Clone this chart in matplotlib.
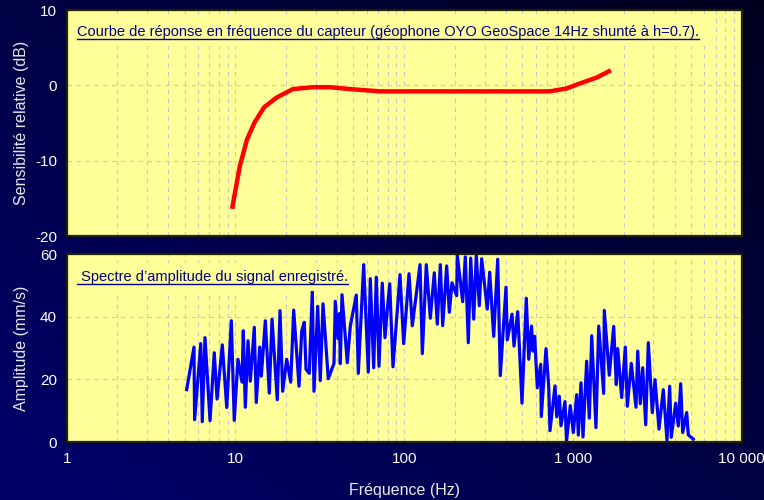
import matplotlib
matplotlib.use("Agg")
import matplotlib.pyplot as plt
from matplotlib.lines import Line2D
import numpy as np

plt.rcParams['font.family'] = ['Liberation Sans', 'DejaVu Sans']
plt.rcParams['axes.unicode_minus'] = False

# courbe de réponse du capteur (Hz, dB)
resp_freq = [9.55, 10.6, 11.7, 13.0, 14.8, 17.6, 21.9, 28.8, 36.3, 47.8, 71.9,
             731, 922, 1101, 1388, 1679]
resp_db = [-16.4, -10.8, -7.2, -4.9, -2.9, -1.6, -0.5, -0.25, -0.25, -0.5, -0.8,
           -0.8, -0.4, 0.25, 1.05, 2.0]

# spectre d'amplitude (Hz, mm/s)
spec_freq = [5.14, 5.68, 5.73, 6.23, 6.36, 6.60, 7.07, 7.49, 7.78, 8.36,
             8.88, 9.45, 9.84, 10.35, 10.94, 11.13, 11.44, 11.87, 12.25, 12.93,
             13.29, 13.92, 14.23, 15.03, 15.87, 16.47, 17.70, 18.37, 19.05, 20.13,
             21.26, 22.14, 23.81, 24.70, 25.59, 26.19, 27.39, 28.54, 29.21, 30.72,
             31.83, 33.03, 35.49, 38.37, 39.05, 40.52, 41.36, 41.81, 42.80, 46.01,
             47.93, 52.02, 53.46, 57.54, 61.27, 62.96, 65.95, 68.34, 70.90, 74.16,
             76.95, 79.09, 82.06, 85.83, 94.43, 99.31, 106.8, 111.7, 124.1, 128.1,
             135.2, 142.8, 150.8, 157.1, 163.7, 169.1, 178.6, 185.1, 192.0, 204.7,
             206.4, 222.2, 230.2, 239.8, 247.8, 258.2, 267.5, 278.6, 287.9, 310.7,
             321.1, 339.2, 358.2, 371.1, 401.2, 408.3, 435.5, 447.4, 470.6, 499.0,
             529.2, 546.8, 568.1, 579.9, 593.4, 614.9, 644.2, 649.4, 692.3, 718.3,
             731.1, 782.8, 802.3, 830.1, 849.6, 897.3, 915.9, 964.5, 1005, 1052,
             1076, 1116, 1147, 1206, 1250, 1292, 1369, 1421, 1521, 1534,
             1642, 1744, 1807, 1842, 1945, 2043, 2100, 2217, 2364, 2420,
             2507, 2591, 2699, 2796, 2953, 3064, 3236, 3431, 3608, 3744,
             3826, 4063, 4210, 4350, 4471, 4722, 4826, 5168]
spec_amp = [16.7, 30.3, 7.1, 31.4, 6.5, 33.3, 6.8, 28.5, 13.7, 31.0,
            11.0, 38.7, 6.9, 26.4, 19.1, 35.5, 11.1, 32.3, 19.4, 36.6,
            12.6, 30.3, 21.0, 38.7, 15.6, 39.2, 13.5, 41.9, 16.2, 26.4,
            19.1, 42.1, 17.8, 35.4, 38.2, 23.2, 21.9, 48.3, 16.2, 43.3,
            19.6, 44.1, 20.2, 25.1, 44.9, 33.0, 41.0, 25.0, 47.0, 25.3,
            37.0, 46.9, 21.9, 56.6, 22.3, 52.1, 23.7, 52.6, 24.2, 50.7,
            33.3, 41.2, 50.5, 24.0, 53.4, 31.4, 53.7, 37.1, 56.6, 28.2,
            56.6, 39.5, 54.0, 37.6, 56.6, 37.1, 56.2, 41.4, 50.8, 46.7,
            59.6, 44.8, 59.1, 31.7, 58.7, 39.2, 59.6, 43.5, 58.5, 42.4,
            54.2, 33.7, 58.3, 21.2, 49.4, 32.6, 40.8, 30.6, 41.6, 12.4,
            45.9, 26.4, 37.0, 29.0, 33.7, 17.3, 24.8, 8.1, 29.8, 17.8,
            3.6, 17.9, 8.0, 14.6, 5.2, 12.9, 0.2, 11.6, 3.0, 15.1,
            2.2, 18.9, 1.6, 25.8, 7.6, 33.9, 4.6, 37.0, 15.5, 42.0,
            21.3, 36.9, 18.3, 29.8, 14.2, 30.3, 11.4, 25.1, 11.1, 29.0,
            12.2, 23.7, 5.5, 31.7, 9.4, 19.9, 4.1, 16.7, 0.6, 17.8,
            1.5, 12.4, 5.1, 18.6, 3.0, 9.4, 2.3, 0.9]

xticks = [1, 10, 100, 1000, 10000]
xtick_labels = ["1", "10", "100", "1 000", "10 000"]

title_top = "Courbe de réponse en fréquence du capteur (géophone OYO GeoSpace 14Hz shunté à h=0.7)."
title_bot = " Spectre d’amplitude du signal enregistré."

fig = plt.figure(figsize=(7.64, 5.0), dpi=100)

# fond dégradé bleu nuit
bg = fig.add_axes([0, 0, 1, 1], zorder=-10)
gx, gy = np.meshgrid(np.linspace(0, 1, 200), np.linspace(0, 1, 200))
t = (gx + (1 - gy)) / 2
grad = np.zeros((200, 200, 3))
grad[..., 2] = (108 - 78 * t) / 255
bg.imshow(grad, aspect='auto', extent=[0, 1, 0, 1], origin='upper')
bg.axis('off')

ax1 = fig.add_axes([0.0873, 0.528, 0.8835, 0.452])
ax2 = fig.add_axes([0.0873, 0.116, 0.8835, 0.376])

minor = [m * 10 ** d for d in range(4) for m in range(2, 10)]
for ax in (ax1, ax2):
    ax.set_facecolor('#ffff99')
    ax.set_xscale('log')
    ax.set_xlim(1, 10000)
    ax.set_xticks(xticks)
    ax.set_xticks(minor, minor=True)
    ax.grid(True, which='both', color='#c8c8c8', linestyle=(0, (4, 4)), linewidth=0.8)
    ax.set_axisbelow(True)
    ax.tick_params(which='both', length=0, colors='white', labelsize=11, pad=7)
    for s in ax.spines.values():
        s.set_color('#222200')
        s.set_linewidth(1.6)

ax1.plot(resp_freq, resp_db, color='#ff0000', lw=3.2, solid_capstyle='butt')
ax1.set_ylim(-20, 10)
ax1.set_yticks([-20, -10, 0, 10])
ax1.set_xticklabels([])
ax1.set_ylabel("Sensibilité relative (dB)", color='#e8e8e8', fontsize=11.5)
ax1.yaxis.set_label_coords(-0.056, 0.5)

ax2.plot(spec_freq, spec_amp, color='#0000ff', lw=2.3)
ax2.set_ylim(0, 60)
ax2.set_yticks([0, 20, 40, 60])
ax2.set_xticklabels(xtick_labels)
ax2.set_ylabel("Amplitude (mm/s)", color='#e8e8e8', fontsize=11.5)
ax2.yaxis.set_label_coords(-0.056, 0.5)
fig.text(0.529, 0.02, "Fréquence (Hz)", color='#e8e8e8', fontsize=11.5, ha='center', va='center')

t1 = ax1.text(0.0155, 0.885, title_top, transform=ax1.transAxes, color='#000080',
              fontsize=10.55, va='baseline',
              bbox=dict(facecolor='#ffff99', edgecolor='none', pad=5))
t2 = ax2.text(0.0155, 0.855, title_bot, transform=ax2.transAxes, color='#000080',
              fontsize=10.55, va='baseline',
              bbox=dict(facecolor='#ffff99', edgecolor='none', pad=5))

# soulignement des titres
fig.canvas.draw()
r = fig.canvas.get_renderer()
for txt, ax in ((t1, ax1), (t2, ax2)):
    bb = txt.get_window_extent(r)
    x0, _ = ax.transAxes.inverted().transform((bb.x0, bb.y0))
    x1, _ = ax.transAxes.inverted().transform((bb.x1, bb.y0))
    _, yb = ax.transAxes.transform((0, txt.get_position()[1]))
    yl = ax.transAxes.inverted().transform((0, yb - 3))[1]
    ax.add_line(Line2D([x0, x1], [yl, yl], transform=ax.transAxes,
                       color='#000080', lw=1.0, zorder=5))

fig.savefig("out.png", dpi=100)
plt.close()
